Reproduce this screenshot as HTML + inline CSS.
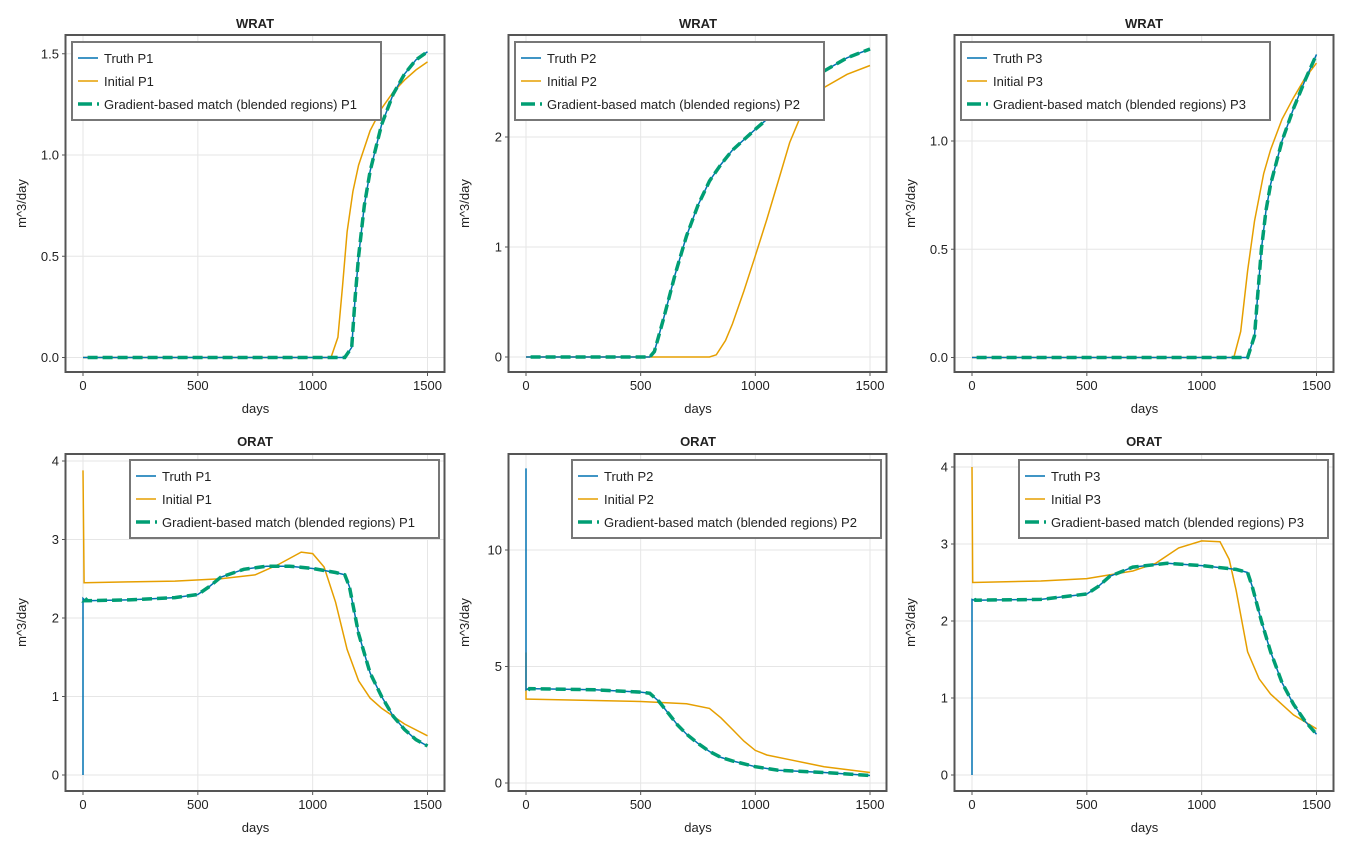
<!DOCTYPE html>
<html><head><meta charset="utf-8"><style>
html,body{margin:0;padding:0;background:#fff;}
svg text{font-family:"Liberation Sans",sans-serif;fill:#222;}
</style></head><body>
<svg id="s" width="1350" height="850" xmlns="http://www.w3.org/2000/svg">
<text x="255" y="28" font-size="13" font-weight="bold" text-anchor="middle">WRAT</text>
<text x="698" y="28" font-size="13" font-weight="bold" text-anchor="middle">WRAT</text>
<text x="1144" y="28" font-size="13" font-weight="bold" text-anchor="middle">WRAT</text>
<text x="255" y="446" font-size="13" font-weight="bold" text-anchor="middle">ORAT</text>
<text x="698" y="446" font-size="13" font-weight="bold" text-anchor="middle">ORAT</text>
<text x="1144" y="446" font-size="13" font-weight="bold" text-anchor="middle">ORAT</text>
</svg>
<script>
const S=document.getElementById('s');const NS='http://www.w3.org/2000/svg';
function el(t,a,txt){const e=document.createElementNS(NS,t);for(const k in a)e.setAttribute(k,a[k]);if(txt!==undefined)e.textContent=txt;S.appendChild(e);return e;}
const cols=[{l:66,r:445,x0:83,x1:427.5},{l:509,r:887,x0:526,x1:870},{l:955,r:1334,x0:972,x1:1316.5}];
const rows=[{t:35,b:372},{t:454,b:791}];
const B='#0072B2',O='#E69F00',G='#009E73';
function panel(c,r,ym,ticks,tickLab,series,leg,P){
  const C=cols[c],R=rows[r];
  const X=v=>C.x0+(C.x1-C.x0)*v/1500, Y=v=>ym[0]-(v)*ym[1];
  [0,500,1000,1500].forEach(v=>{el('line',{x1:X(v),x2:X(v),y1:R.t,y2:R.b,stroke:'#e6e6e6','stroke-width':1});
    el('line',{x1:X(v),x2:X(v),y1:R.b,y2:R.b+4,stroke:'#555'});
    el('text',{x:X(v),y:R.b+18,'font-size':13,'text-anchor':'middle'},String(v));});
  ticks.forEach((v,i)=>{el('line',{x1:C.l,x2:C.r,y1:Y(v),y2:Y(v),stroke:'#e6e6e6'});
    el('line',{x1:C.l-4,x2:C.l,y1:Y(v),y2:Y(v),stroke:'#555'});
    el('text',{x:C.l-7,y:Y(v)+4.5,'font-size':13,'text-anchor':'end'},tickLab[i]);});
  el('text',{x:(C.l+C.r)/2,y:R.b+41,'font-size':13,'text-anchor':'middle'},'days');
  const yc=(R.t+R.b)/2;
  el('text',{x:C.l-40,y:yc,'font-size':13,'text-anchor':'middle',transform:`rotate(-90 ${C.l-40} ${yc})`},'m^3/day');
  const pts=d=>d.map(p=>X(p[0]).toFixed(1)+','+Y(p[1]).toFixed(1)).join(' ');
  el('polyline',{points:pts(series[1]),fill:'none',stroke:O,'stroke-width':1.5});
  el('polyline',{points:pts(series[0]),fill:'none',stroke:B,'stroke-width':1.5});
  const m=series[0].filter(p=>!(p[0]===0&&(p[1]===0||p[1]>6))).map(p=>p.slice());
  if(m[0][0]<20)m[0][0]=20;else m.unshift([20,m[0][1]]);
  el('polyline',{points:pts(m),fill:'none',stroke:G,'stroke-width':3.5,'stroke-dasharray':'10 5'});
  el('rect',{x:C.l-0.5,y:R.t,width:C.r-C.l,height:R.b-R.t,fill:'none',stroke:'#555','stroke-width':2});
  const lx=leg[0],ly=leg[1];
  el('rect',{x:lx,y:ly,width:309,height:78,fill:'#fff',stroke:'#777','stroke-width':2});
  const items=[[B,'Truth '+P,0],[O,'Initial '+P,0],[G,'Gradient-based match (blended regions) '+P,1]];
  items.forEach((it,i)=>{const yy=ly+16+i*23;
    if(it[2]){el('line',{x1:lx+6,x2:lx+20,y1:yy,y2:yy,stroke:G,'stroke-width':3.5});el('line',{x1:lx+25,x2:lx+27,y1:yy,y2:yy,stroke:G,'stroke-width':3.5});}
    else el('line',{x1:lx+6,x2:lx+26,y1:yy,y2:yy,stroke:it[0],'stroke-width':1.5});
    el('text',{x:lx+32,y:yy+5,'font-size':13},it[1]);});
}
const w1t=[[0,0],[1140,0],[1170,0.05],[1185,0.3],[1200,0.5],[1225,0.75],[1250,0.92],[1300,1.15],[1350,1.3],[1400,1.4],[1450,1.47],[1500,1.51]];
const w1i=[[0,0],[1080,0],[1110,0.1],[1130,0.35],[1150,0.62],[1175,0.82],[1200,0.95],[1250,1.12],[1300,1.23],[1350,1.31],[1400,1.37],[1450,1.42],[1500,1.46]];
panel(0,0,[357.5,202.5],[0,0.5,1,1.5],['0.0','0.5','1.0','1.5'],[w1t,w1i],[72,42],'P1');
const w2t=[[0,0],[540,0],[560,0.05],[600,0.35],[650,0.75],[700,1.1],[750,1.38],[800,1.6],[850,1.75],[900,1.88],[1000,2.07],[1100,2.25],[1200,2.42],[1300,2.6],[1400,2.72],[1500,2.8]];
const w2i=[[0,0],[800,0],[830,0.02],[870,0.15],[900,0.3],[950,0.6],[1000,0.92],[1050,1.25],[1100,1.6],[1150,1.95],[1200,2.2],[1250,2.35],[1300,2.45],[1400,2.57],[1500,2.65]];
panel(1,0,[357,110],[0,1,2],['0','1','2'],[w2t,w2i],[515,42],'P2');
const w3t=[[0,0],[1200,0],[1230,0.1],[1245,0.3],[1260,0.5],[1280,0.68],[1300,0.8],[1350,1.0],[1400,1.15],[1450,1.28],[1500,1.4]];
const w3i=[[0,0],[1140,0],[1170,0.12],[1200,0.4],[1230,0.63],[1270,0.85],[1300,0.96],[1350,1.1],[1400,1.2],[1450,1.29],[1500,1.36]];
panel(2,0,[357.5,216.5],[0,0.5,1],['0.0','0.5','1.0'],[w3t,w3i],[961,42],'P3');
const o1t=[[0,0],[0,2.25],[10,2.22],[200,2.23],[400,2.26],[500,2.3],[550,2.4],[600,2.52],[700,2.62],[800,2.66],[900,2.66],[1000,2.63],[1100,2.58],[1140,2.55],[1160,2.4],[1200,1.8],[1250,1.3],[1300,1.0],[1350,0.75],[1400,0.58],[1450,0.45],[1500,0.37]];
const o1i=[[0,3.88],[5,2.45],[200,2.46],[400,2.47],[600,2.5],[750,2.55],[850,2.68],[950,2.84],[1000,2.82],[1050,2.65],[1100,2.2],[1150,1.6],[1200,1.2],[1250,0.98],[1300,0.85],[1400,0.65],[1500,0.5]];
panel(0,1,[775,78.5],[0,1,2,3,4],['0','1','2','3','4'],[o1t,o1i],[130,460],'P1');
const o2t=[[0,13.5],[0,4.0],[10,4.05],[300,4.0],[500,3.9],[540,3.85],[580,3.5],[620,3.0],[660,2.5],[700,2.1],[750,1.7],[800,1.35],[850,1.1],[900,0.95],[1000,0.7],[1100,0.55],[1200,0.5],[1300,0.45],[1500,0.32]];
const o2i=[[0,5.6],[0,3.6],[10,3.6],[500,3.5],[700,3.4],[800,3.2],[850,2.8],[900,2.3],[950,1.8],[1000,1.4],[1050,1.2],[1150,1.0],[1300,0.7],[1500,0.45]];
panel(1,1,[783,23.3],[0,5,10],['0','5','10'],[o2t,o2i],[572,460],'P2');
const o3t=[[0,0],[0,2.28],[10,2.27],[300,2.28],[500,2.35],[550,2.45],[600,2.58],[700,2.7],[850,2.75],[1000,2.72],[1150,2.67],[1200,2.63],[1220,2.45],[1260,2.0],[1300,1.6],[1350,1.2],[1400,0.92],[1450,0.7],[1500,0.53]];
const o3i=[[0,4.0],[3,2.5],[300,2.52],[500,2.55],[700,2.65],[800,2.75],[900,2.95],[1000,3.04],[1080,3.03],[1120,2.8],[1150,2.4],[1200,1.6],[1250,1.25],[1300,1.05],[1400,0.78],[1500,0.6]];
panel(2,1,[775,77],[0,1,2,3,4],['0','1','2','3','4'],[o3t,o3i],[1019,460],'P3');
</script>
</body></html>
